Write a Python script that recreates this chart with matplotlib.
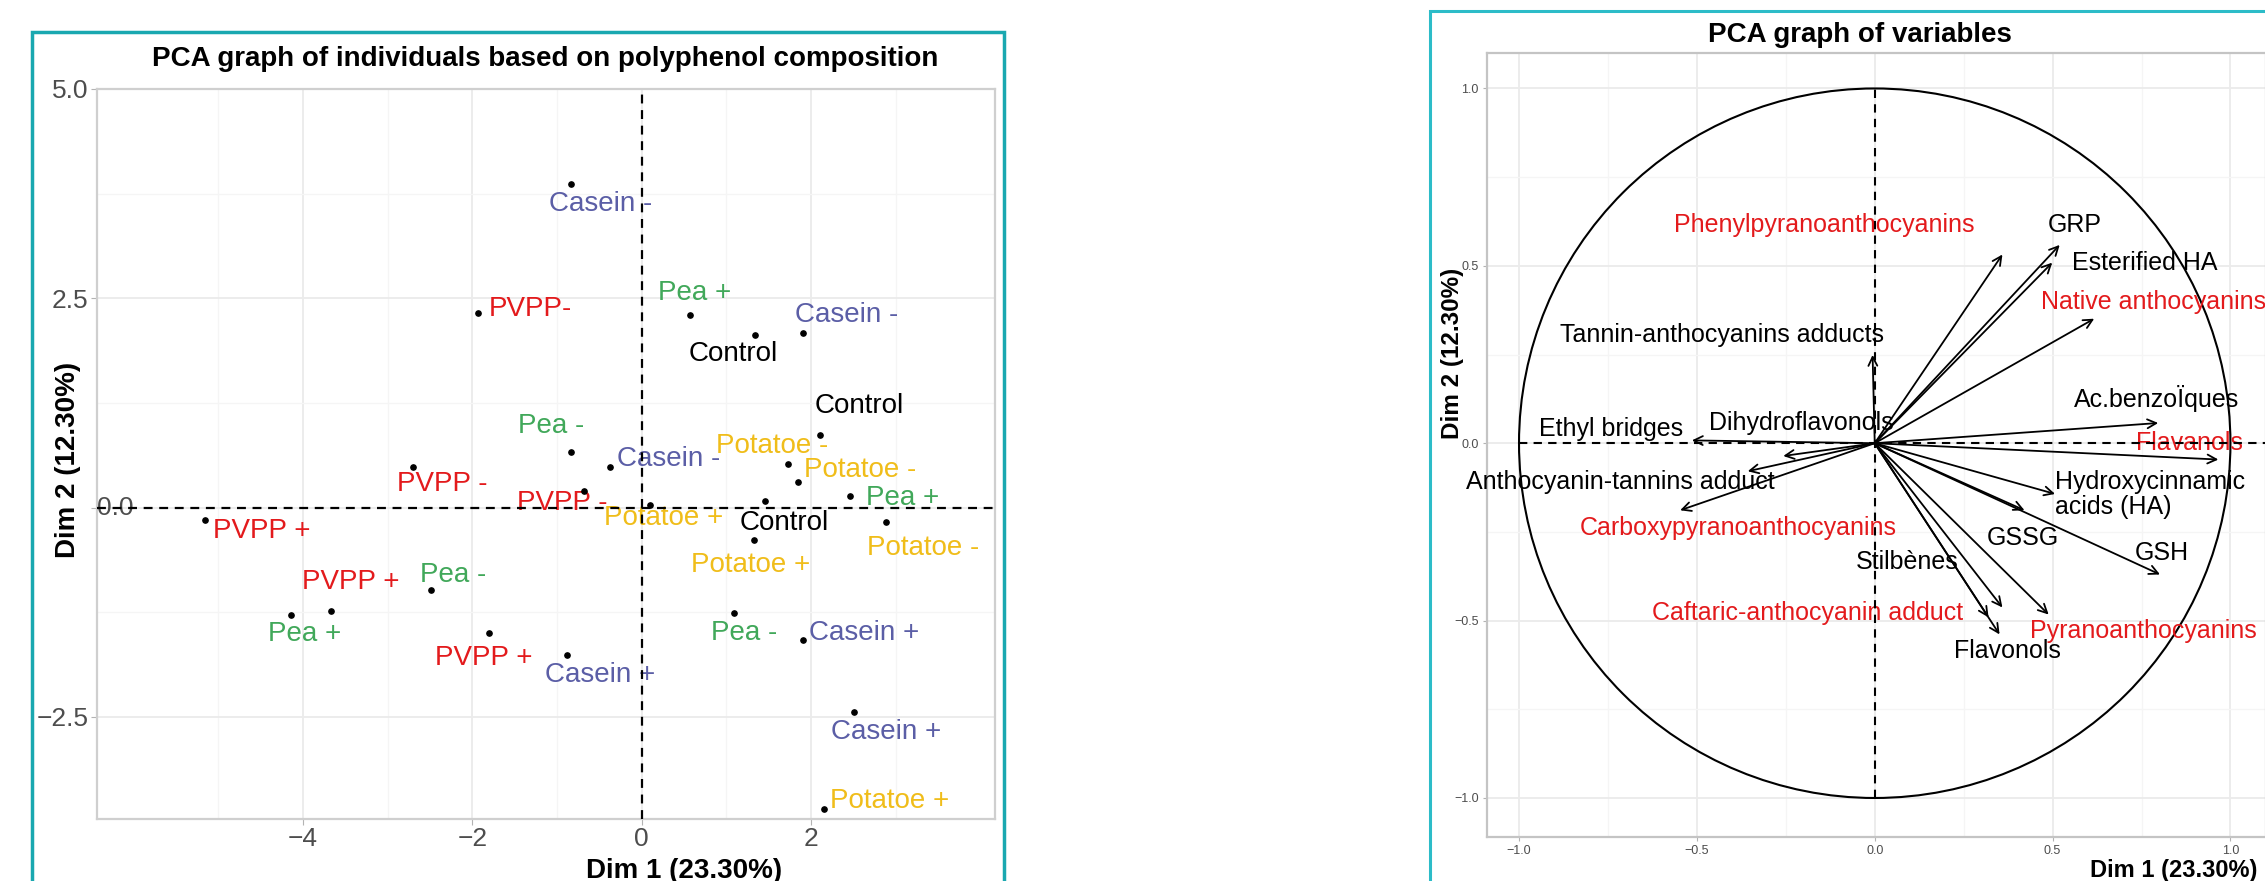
import numpy as np
import matplotlib
matplotlib.use('Agg')
import matplotlib.pyplot as plt
from matplotlib.patches import Rectangle, Circle
from matplotlib.ticker import MultipleLocator, FixedLocator, FuncFormatter
import matplotlib.transforms as mtransforms

plt.rcParams['font.family'] = ['Liberation Sans', 'DejaVu Sans']

# individuals (left panel)
ind_names = ["Casein -", "PVPP-", "Pea +", "Control", "Casein -", "Control", "Pea -",
             "Casein -", "PVPP -", "PVPP -", "Potatoe +", "Potatoe -", "Potatoe -",
             "Pea +", "Control", "Potatoe -", "Potatoe +", "PVPP +", "PVPP +", "Pea +",
             "Pea -", "PVPP +", "Casein +", "Pea -", "Casein +", "Casein +", "Potatoe +"]
ind_x = [-0.83, -1.93, 0.57, 1.34, 1.90, 2.10, -0.83, -0.37, -2.70, -0.68, 0.10, 1.73, 1.85,
         2.46, 1.46, 2.88, 1.32, -5.15, -3.67, -4.14, -2.49, -1.80, -0.88, 1.09, 1.90, 2.50, 2.15]
ind_y = [3.86, 2.32, 2.30, 2.06, 2.09, 0.87, 0.66, 0.49, 0.49, 0.20, 0.03, 0.52, 0.31,
         0.14, 0.08, -0.17, -0.39, -0.15, -1.24, -1.28, -0.98, -1.50, -1.76, -1.26, -1.58, -2.44, -3.60]
ind_lab_x = [-0.49, -1.31, 0.62, 1.08, 2.42, 2.57, -1.07, 0.32, -2.36, -0.94, 0.26, 1.54, 2.58,
             3.08, 1.68, 3.32, 1.28, -4.49, -3.43, -3.98, -2.23, -1.87, -0.49, 1.21, 2.63, 2.88, 2.93]
ind_lab_y = [3.63, 2.37, 2.56, 1.84, 2.30, 1.21, 0.98, 0.58, 0.28, 0.05, -0.13, 0.73, 0.45,
             0.11, -0.18, -0.48, -0.69, -0.28, -0.89, -1.51, -0.81, -1.80, -2.00, -1.50, -1.50, -2.68, -3.51]
group_colors = {"PVPP": "#e31a1c", "Pea": "#41a85a", "Casein": "#5b5ea6",
                "Potatoe": "#f0bd1a", "Control": "#000000"}
ind_xticks = [-4, -2, 0, 2]
ind_yticks = [-2.5, 0.0, 2.5, 5.0]

# variables (right panel)
var_names = ["Phenylpyranoanthocyanins", "GRP", "Esterified HA", "Native anthocyanins",
             "Tannin-anthocyanins adducts", "Ac.benzoÏques", "Flavanols", "Ethyl bridges",
             "Dihydroflavonols", "Anthocyanin-tannins adduct", "Carboxypyranoanthocyanins",
             "Hydroxycinnamic\nacids (HA)", "GSSG", "GSH", "Stilbènes", "Pyranoanthocyanins",
             "Caftaric-anthocyanin adduct", "Flavonols"]
var_x = [0.359, 0.520, 0.499, 0.617, -0.006, 0.797, 0.966, -0.514, -0.257, -0.357, -0.547,
         0.507, 0.421, 0.802, 0.359, 0.489, 0.320, 0.351]
var_y = [0.532, 0.559, 0.509, 0.351, 0.249, 0.057, -0.046, 0.008, -0.036, -0.079, -0.189,
         -0.143, -0.189, -0.370, -0.463, -0.483, -0.491, -0.539]
var_lab_x = [-0.143, 0.562, 0.758, 0.785, -0.428, 0.791, 0.885, -0.742, -0.207, -0.716, -0.385,
             0.507, 0.417, 0.807, 0.091, 0.755, -0.188, 0.374]
var_lab_y = [0.614, 0.614, 0.509, 0.398, 0.304, 0.126, 0.0, 0.039, 0.057, -0.109, -0.239,
             -0.145, -0.266, -0.310, -0.334, -0.528, -0.479, -0.586]
var_red = [True, False, False, True, False, False, True, False, False, False, True,
           False, False, False, False, True, True, False]

W, H = 2265, 881
fig = plt.figure(figsize=(W / 100, H / 100), dpi=100)


def fx(px):
    return px / W


def fy(py):
    return 1 - py / H


def minus_fmt(fmt):
    return FuncFormatter(lambda v, p: (fmt % v).replace('-', '\u2212'))


def style_axes(ax, spine_col):
    ax.grid(which='major', color='#ebebeb', lw=1.3, zorder=0)
    ax.grid(which='minor', color='#f5f5f5', lw=0.9, zorder=0)
    ax.set_axisbelow(True)
    for s in ax.spines.values():
        s.set_color(spine_col)
        s.set_linewidth(1.6)
    ax.tick_params(which='minor', length=0)


# ---------------- left panel ----------------
ax1 = fig.add_axes([fx(97), fy(819), fx(995 - 97), (819 - 89) / H])
ax1.xaxis.set_major_locator(FixedLocator(ind_xticks))
ax1.xaxis.set_minor_locator(FixedLocator([-5, -3, -1, 1, 3]))
ax1.yaxis.set_major_locator(FixedLocator(ind_yticks))
ax1.yaxis.set_minor_locator(FixedLocator([-1.25, 1.25, 3.75]))
style_axes(ax1, '#cfcfcf')
ax1.set_xlim(-6.43, 4.17)
ax1.set_ylim(-3.72, 5.0)
ax1.xaxis.set_major_formatter(minus_fmt('%d'))
ax1.yaxis.set_major_formatter(FuncFormatter(
    lambda v, p: '' if abs(v) < 1e-9 else ('%.1f' % v).replace('-', '\u2212')))
ax1.tick_params(which='major', labelsize=19, labelcolor='#4d4d4d', color='#b3b3b3',
                length=4, pad=2)
ax1.text(0.0, 0.0, '0.0', transform=mtransforms.blended_transform_factory(ax1.transAxes, ax1.transData),
         ha='left', va='center', fontsize=19, color='#4d4d4d', zorder=1)

ax1.axhline(0, color='black', ls=(0, (4, 3)), lw=1.6, zorder=4)
ax1.axvline(0, color='black', ls=(0, (4, 3)), lw=1.6, zorder=4)
ax1.plot(ind_x, ind_y, 'o', color='black', ms=3.8, zorder=5)
for name, tx, ty in zip(ind_names, ind_lab_x, ind_lab_y):
    col = group_colors[name.split()[0].rstrip('+-')]
    ax1.text(tx, ty, name, color=col, fontsize=20, ha='center', va='center', zorder=3)

fig.text(fx(545), fy(66), 'PCA graph of individuals based on polyphenol composition',
         ha='center', va='baseline', fontsize=20, weight='bold')
fig.text(fx(684), fy(878), 'Dim 1 (23.30%)', ha='center', va='baseline', fontsize=20, weight='bold')
fig.text(fx(68), fy(460), 'Dim 2 (12.30%)', ha='center', va='center', rotation=90,
         fontsize=20, weight='bold')

# ---------------- right panel ----------------
ax2 = fig.add_axes([fx(1487), fy(837), fx(2266 - 1487), (837 - 53) / H])
ax2.xaxis.set_major_locator(MultipleLocator(0.5))
ax2.xaxis.set_minor_locator(MultipleLocator(0.25))
ax2.yaxis.set_major_locator(MultipleLocator(0.5))
ax2.yaxis.set_minor_locator(MultipleLocator(0.25))
style_axes(ax2, '#c4c4c4')
ax2.set_xlim(-1.09, 1.10)
ax2.set_ylim(-1.11, 1.10)
ax2.xaxis.set_major_formatter(minus_fmt('%.1f'))
ax2.yaxis.set_major_formatter(minus_fmt('%.1f'))
ax2.tick_params(which='major', labelsize=9, labelcolor='#4d4d4d', color='#b3b3b3',
                length=3, pad=3)

ax2.add_patch(Circle((0, 0), 1.0, fill=False, ec='black', lw=1.5, zorder=3))
ax2.plot([-1, 1.1], [0, 0], color='black', ls=(0, (4, 3)), lw=1.5, zorder=4)
ax2.plot([0, 0], [-1, 1], color='black', ls=(0, (4, 3)), lw=1.5, zorder=4)
for vx, vy in zip(var_x, var_y):
    ax2.annotate('', xy=(vx, vy), xytext=(0, 0),
                 arrowprops=dict(arrowstyle='->', color='black', lw=1.3,
                                 mutation_scale=16, shrinkA=0, shrinkB=0), zorder=5)
for name, tx, ty, red in zip(var_names, var_lab_x, var_lab_y, var_red):
    col = '#e31a1c' if red else 'black'
    if '\n' in name:
        ax2.text(tx, ty, name, color=col, fontsize=18, ha='left', va='center',
                 multialignment='left', linespacing=1.05, zorder=3)
    else:
        ax2.text(tx, ty, name, color=col, fontsize=18, ha='center', va='center', zorder=3)

fig.text(fx(1860), fy(42), 'PCA graph of variables', ha='center', va='baseline',
         fontsize=20, weight='bold')
fig.text(fx(2090), fy(877), 'Dim 1 (23.30%)', ha='left', va='baseline', fontsize=17, weight='bold')
fig.text(fx(1453), fy(353), 'Dim 2 (12.30%)', ha='center', va='center', rotation=90,
         fontsize=17.5, weight='bold')

# frames around the two panels
fig.patches.append(Rectangle((fx(32), fy(920)), fx(1004 - 32), (920 - 32) / H, fill=False,
                             ec='#1aa8b0', lw=2.5, transform=fig.transFigure, figure=fig))
fig.patches.append(Rectangle((fx(1430), fy(920)), fx(2400 - 1430), (920 - 11) / H, fill=False,
                             ec='#2cbcc8', lw=2.2, transform=fig.transFigure, figure=fig))

fig.savefig('out.png', dpi=100)
